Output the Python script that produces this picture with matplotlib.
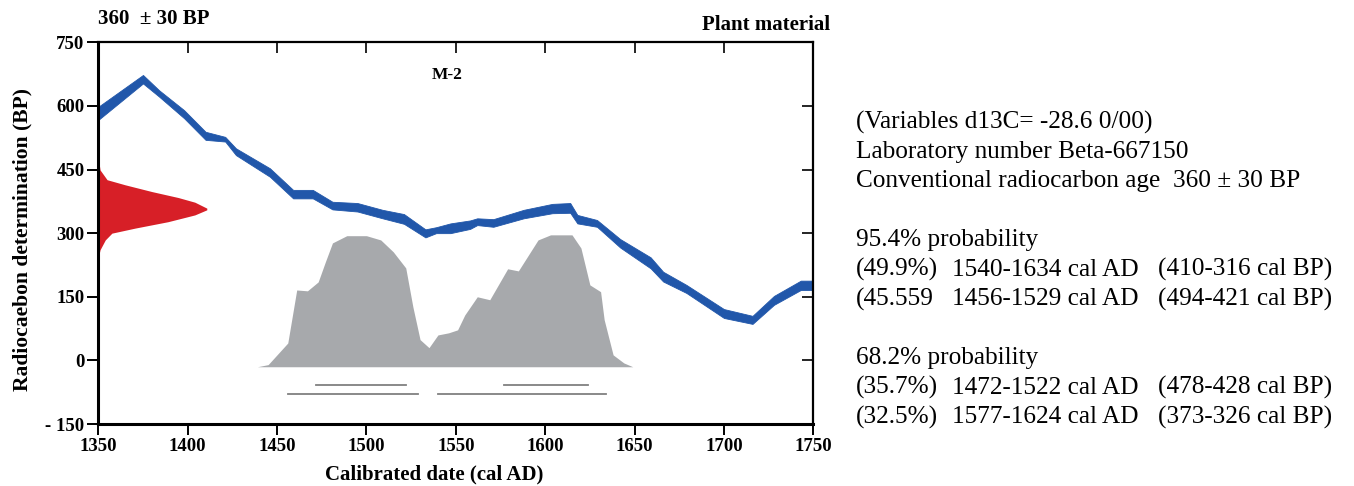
import matplotlib
matplotlib.use("Agg")
import matplotlib.pyplot as plt
import numpy as np

# calibration curve band (cal AD, lower BP, upper BP)
curve_year = [1350, 1375, 1384, 1398, 1410, 1421, 1427, 1446, 1459, 1470,
              1481, 1495, 1509, 1521, 1533, 1539, 1547, 1558, 1562, 1571,
              1588, 1604, 1614, 1618, 1629, 1642, 1659, 1666, 1679, 1700,
              1716, 1728, 1743, 1750]
curve_lo = [567, 653, 622, 571, 520, 516, 484, 433, 382, 382,
            356, 351, 335, 322, 290, 300, 300, 310, 319, 315,
            335, 347, 348, 323, 315, 266, 217, 186, 159, 100,
            86, 131, 166, 166]
curve_hi = [598, 673, 637, 590, 539, 527, 500, 453, 402, 402,
            374, 371, 355, 345, 309, 314, 323, 330, 335, 333,
            355, 369, 371, 343, 331, 286, 243, 209, 178, 121,
            105, 152, 188, 188]

# radiocarbon age distribution (BP, width in years from the axis)
age_bp = [477, 449, 426, 414, 398, 384, 373, 359, 355, 343, 327, 312, 300, 284, 261, 242]
age_width = [0, 1, 4.9, 15, 30, 44.7, 54, 60.7, 60.7, 54, 39, 20.7, 7.6, 3.9, 1, 0]

# calibrated probability profile (cal AD, plotted height)
cal_year = [1439, 1445, 1456, 1461, 1467, 1473, 1477, 1481, 1489, 1500,
            1508, 1515, 1522, 1526, 1530, 1535, 1540, 1546, 1551, 1555,
            1562, 1569, 1579, 1585, 1596, 1603, 1615, 1620, 1625, 1631,
            1633, 1638, 1644, 1649]
cal_prob = [-15, -10, 41, 166, 164, 185, 232, 277, 294, 294,
            284, 256, 218, 126, 49, 30, 60, 65, 72, 107,
            150, 143, 216, 211, 284, 296, 296, 265, 178, 162,
            96, 13, -6, -15]
cal_base = -15

# probability ranges
ranges_68 = [(1472, 1522), (1577, 1624)]
ranges_95 = [(1456, 1529), (1540, 1634)]

x_ticks = [1350, 1400, 1450, 1500, 1550, 1600, 1650, 1700, 1750]
y_ticks = [-150, 0, 150, 300, 450, 600, 750]
y_tick_labels = ["- 150", "0", "150", "300", "450", "600", "750"]

info_lines = [
    "(Variables d13C= -28.6 0/00)",
    "Laboratory number Beta-667150",
    "Conventional radiocarbon age  360 \u00b1 30 BP",
]
prob_blocks = [
    ("95.4% probability", [("(49.9%)", "1540-1634 cal AD", "(410-316 cal BP)"),
                            ("(45.559", "1456-1529 cal AD", "(494-421 cal BP)")]),
    ("68.2% probability", [("(35.7%)", "1472-1522 cal AD", "(478-428 cal BP)"),
                            ("(32.5%)", "1577-1624 cal AD", "(373-326 cal BP)")]),
]

plt.rcParams["font.family"] = ["Liberation Serif", "DejaVu Serif"]

W, H = 1354, 486
fig = plt.figure(figsize=(W / 100, H / 100), dpi=100)
ax = fig.add_axes([98.3 / W, 1 - 424 / H, (813.3 - 98.3) / W, (424 - 42.3) / H])

blue = "#2157aa"
red = "#d71f27"
grey = "#a7a9ac"

ax.fill_between(curve_year, curve_lo, curve_hi, color=blue, lw=0.6, ec=blue)
ax.fill_betweenx(age_bp, 1350, [1350 + w for w in age_width], color=red, lw=0)
ax.fill_between(cal_year, cal_base, cal_prob, color=grey, lw=0)

for a, b in ranges_68:
    ax.plot([a, b], [-58, -58], color="#808080", lw=1.3)
for a, b in ranges_95:
    ax.plot([a, b], [-79, -79], color="#808080", lw=1.3)

ax.set_xlim(1350, 1750)
ax.set_ylim(-150, 750)
ax.set_xticks(x_ticks)
ax.set_yticks(y_ticks)
ax.set_yticklabels(y_tick_labels)
ax.tick_params(direction="out", length=8, width=1.4, labelsize=13.5, pad=2)
for lab in ax.get_xticklabels() + ax.get_yticklabels():
    lab.set_fontweight("bold")

for side in ["left", "bottom"]:
    ax.spines[side].set_linewidth(2.2)
for side in ["top", "right"]:
    ax.spines[side].set_linewidth(1.6)

top = ax.secondary_xaxis("top")
top.set_xticks(x_ticks[1:-1])
top.tick_params(direction="in", length=8, width=1.2, labeltop=False)
top.spines["top"].set_visible(False)
right = ax.secondary_yaxis("right")
right.set_yticks(y_ticks[1:-1])
right.tick_params(direction="in", length=8, width=1.2, labelright=False)
right.spines["right"].set_visible(False)

fig.text(22 / W, 1 - 239 / H, "Radiocaebon determination (BP)", rotation=90,
         ha="center", va="center", fontsize=15.5, fontweight="bold")
fig.text(434 / W, 1 - 474 / H, "Calibrated date (cal AD)", ha="center",
         va="center", fontsize=15, fontweight="bold")
fig.text(98 / W, 1 - 19 / H, "360  \u00b1 30 BP", ha="left", va="center",
         fontsize=15, fontweight="bold")
fig.text(830 / W, 1 - 25 / H, "Plant material", ha="right", va="center",
         fontsize=15, fontweight="bold")
fig.text(432 / W, 1 - 75 / H, "M-2", ha="left", va="center",
         fontsize=12.5, fontweight="bold")

x0, x1, x2 = 856, 952, 1158
y = 122
step = 29.5
fs = 18.2
for line in info_lines:
    fig.text(x0 / W, 1 - y / H, line, ha="left", va="center", fontsize=fs)
    y += step
y += step
for head, rows in prob_blocks:
    fig.text(x0 / W, 1 - y / H, head, ha="left", va="center", fontsize=fs)
    y += step
    for c1, c2, c3 in rows:
        fig.text(x0 / W, 1 - y / H, c1, ha="left", va="center", fontsize=fs)
        fig.text(x1 / W, 1 - y / H, c2, ha="left", va="center", fontsize=fs)
        fig.text(x2 / W, 1 - y / H, c3, ha="left", va="center", fontsize=fs)
        y += step
    y += step

fig.savefig("out.png", dpi=100)
